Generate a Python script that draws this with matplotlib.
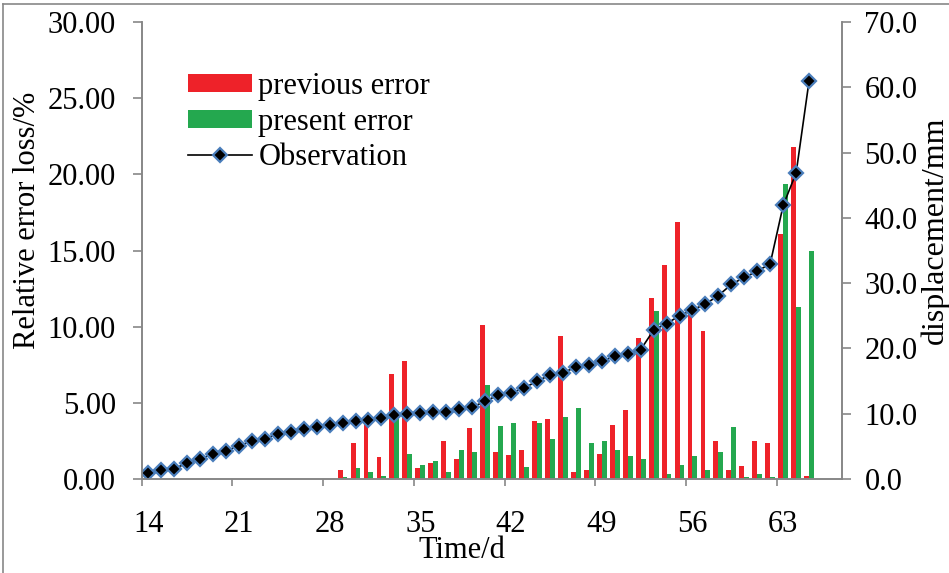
import matplotlib
matplotlib.use('Agg')
import matplotlib.pyplot as plt
from matplotlib.lines import Line2D
from matplotlib.patches import Patch
import numpy as np

plt.rcParams['font.family'] = ['Liberation Serif', 'DejaVu Serif']

# observation (displacement, mm) for days 14..65
obs_days = list(range(14, 66))
observation = [0.9, 1.4, 1.6, 2.4, 3.1, 3.8, 4.3, 5.1, 5.8, 6.2, 6.9, 7.2, 7.7, 8.0,
               8.2, 8.6, 8.9, 9.1, 9.4, 9.8, 10.0, 10.1, 10.3, 10.3, 10.7, 11.0, 11.9,
               12.85, 13.2, 13.9, 15.0, 15.9, 16.3, 17.1, 17.5, 18.0, 18.8, 19.1, 19.8,
               22.8, 23.8, 25.0, 25.9, 26.8, 28.1, 29.8, 30.9, 31.8, 33.0, 41.9, 46.9, 61.0]

# relative error loss (%) for days 29..65
err_days = list(range(29, 66))
previous_error = [0.59, 2.39, 3.61, 1.42, 6.89, 7.72, 0.70, 1.07, 2.49, 1.31, 3.33, 10.13,
                  1.77, 1.55, 1.90, 3.81, 3.94, 9.41, 0.48, 0.59, 1.66, 3.57, 4.53, 9.28,
                  11.88, 14.05, 16.89, 10.8, 9.74, 2.52, 0.59, 0.83, 2.52, 2.36, 16.08,
                  21.77, 0.22]
present_error = [0.10, 0.72, 0.48, 0.22, 4.0, 1.64, 0.94, 1.16, 0.46, 1.90, 1.77, 6.17,
                 3.46, 3.68, 0.81, 3.68, 2.63, 4.05, 4.64, 2.36, 2.50, 1.90, 1.53, 1.31,
                 11.05, 0.33, 0.94, 1.53, 0.59, 1.79, 3.44, 0.10, 0.33, 0.10, 19.37,
                 11.27, 14.97]

x_labels = [14, 21, 28, 35, 42, 49, 56, 63]

red = '#EE2229'
green = '#24A84F'
axis_gray = '#878787'
edge_blue = '#4A7EBB'

W, H = 949, 573
fig = plt.figure(figsize=(W / 100, H / 100), dpi=100)
ax = fig.add_axes([141.7 / W, (H - 479) / H, (841.5 - 141.7) / W, (479 - 22) / H])
ax2 = ax.twinx()

bw = 0.38
xd = np.array(err_days)
ax.bar(xd - bw / 2, previous_error, width=bw, color=red, linewidth=0)
ax.bar(xd + bw / 2, present_error, width=bw, color=green, linewidth=0)

ax2.plot(obs_days, observation, color='black', lw=1.2, marker='D', ms=7.6,
         mfc='black', mec=edge_blue, mew=1.6)

ax.set_xlim(13.5, 67.5)
ax.set_ylim(0, 30)
ax2.set_ylim(0, 70)

ax.set_yticks(np.arange(0, 31, 5))
ax.set_yticklabels(['%.2f' % v for v in np.arange(0, 31, 5)])
ax2.set_yticks(np.arange(0, 71, 10))
ax2.set_yticklabels(['%.1f' % v for v in np.arange(0, 71, 10)])

# tick marks sit between categories, labels sit on the categories
ax.set_xticks(np.arange(13.5, 67, 7))
ax.set_xticklabels([])
ax.set_xticks(x_labels, minor=True)
ax.set_xticklabels([str(v) for v in x_labels], minor=True)

for a in (ax, ax2):
    for s in a.spines.values():
        s.set_color(axis_gray)
        s.set_linewidth(1.2)
    a.spines['top'].set_visible(False)

ax.tick_params(axis='y', direction='out', length=6.5, width=1.2, color=axis_gray,
               labelsize=22, pad=12)
ax2.tick_params(axis='y', direction='out', length=6.5, width=1.2, color=axis_gray,
                labelsize=22, pad=10)
ax.tick_params(axis='x', which='major', direction='out', length=5, width=1.2,
               color=axis_gray)
ax.tick_params(axis='x', which='minor', length=0, labelsize=22, pad=22)

fig.text(28 / W, 1 - 220 / H, 'Relative error loss/%', rotation=90, fontsize=22,
         ha='center', va='center')
fig.text(935 / W, 1 - 230 / H, 'displacement/mm', rotation=90, fontsize=23,
         ha='center', va='center')
fig.text(462 / W, 1 - 551 / H, 'Time/d', fontsize=22, ha='center', va='center')

handles = [Patch(facecolor=red, edgecolor='none'),
           Patch(facecolor=green, edgecolor='none'),
           Line2D([], [], color='black', lw=1.2, marker='D', ms=7.6, mfc='black',
                  mec=edge_blue, mew=1.6)]
ax2.legend(handles, ['previous error', 'present error', 'Observation'],
           loc='upper left', bbox_to_anchor=((188 - 141.7) / 700, (479 - 72) / 457),
           frameon=False, fontsize=22, borderpad=0, borderaxespad=0,
           handlelength=2.1, handleheight=0.55, handletextpad=0.2, labelspacing=0.22)

# outer frame of the picture
fig.add_artist(Line2D([3 / W, 3 / W], [0, 1 - 4 / H], color=axis_gray, lw=1.2))
fig.add_artist(Line2D([3 / W, 1], [1 - 4 / H, 1 - 4 / H], color=axis_gray, lw=1.2))

fig.savefig('out.png', dpi=100)
